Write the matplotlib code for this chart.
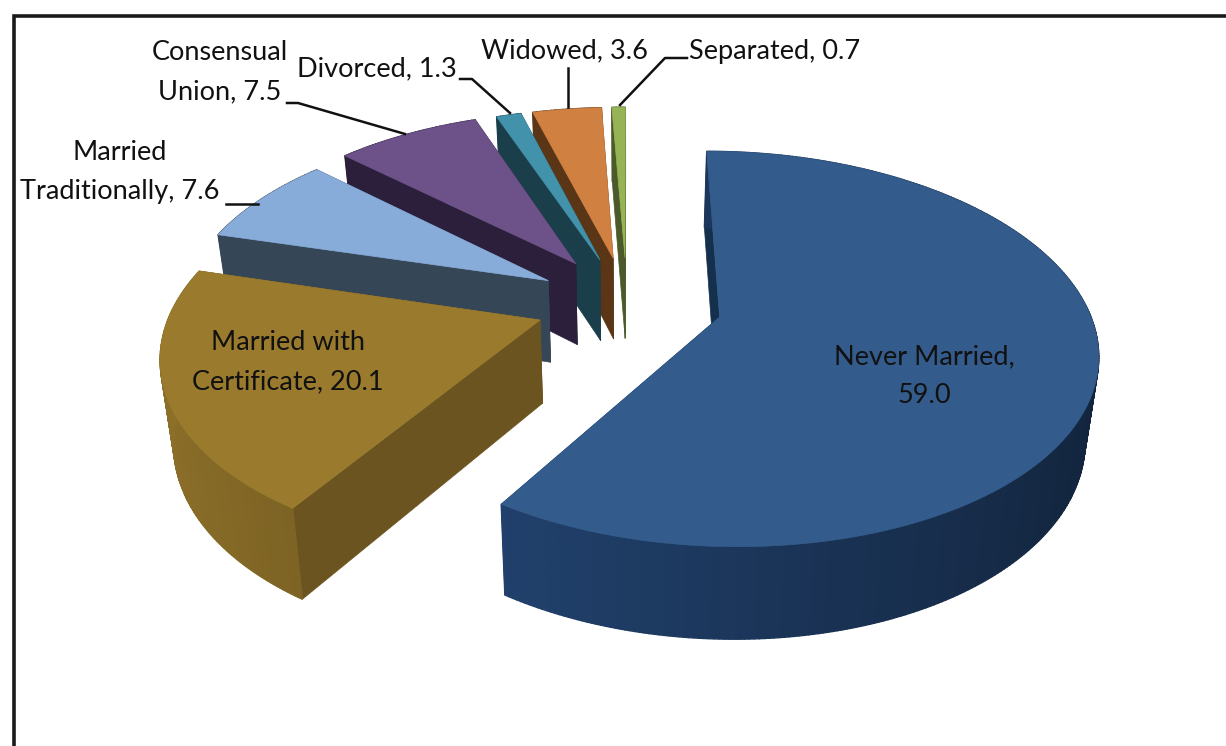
import numpy as np
import matplotlib
matplotlib.use("Agg")
import matplotlib.pyplot as plt
from matplotlib.colors import to_rgb

names = ["Never Married", "Married with\nCertificate", "Married\nTraditionally",
         "Consensual\nUnion", "Divorced", "Widowed", "Separated"]
values = [59.0, 20.1, 7.6, 7.5, 1.3, 3.6, 0.7]
seps = [",\n", ", ", ", ", ", ", ", ", ", ", ", "]

top_colors = ["#335C8C", "#9A7B2E", "#88ACD9", "#6C5288", "#4392AB", "#D08040", "#96B356"]
face_colors = ["#14304D", "#6C5420", "#354657", "#2B1F3B", "#1A3E4A", "#5A3516", "#4A5A28"]
wall_left = ["#25497A", "#8C6F29", "#354657", "#2B1F3B", "#1A3E4A", "#5A3516", "#4A5A28"]
wall_right = ["#12243C", "#4A3A14", "#354657", "#2B1F3B", "#1A3E4A", "#5A3516", "#4A5A28"]

label_pos = [(924, 376), (288, 362), (120, 172), (220, 72), (377, 69), (564, 51), (775, 51)]
leaders = [
    [(226, 204), (258, 204)],
    [(287, 103), (298, 103), (405, 134)],
    [(460, 79), (472, 79), (510, 113)],
    [(568, 68), (568, 107)],
    [(687, 58), (665, 58), (620, 105)],
]

# pie geometry, in pixels
cx, cy = 627, 303
rx, ry = 367, 188
depth = 85
explode = [0.26, 0.25, 0.25, 0.26, 0.25, 0.25, 0.25]
persp_y = 0.16
persp_z = 0.03
start_angle = 0.0


def project(x, y, z):
    w = (1 + persp_y * y) * (1 + persp_z * z)
    return cx + rx * x / w, cy + (-ry * y + depth * z) / w


def mix(a, b, t):
    a, b = np.array(to_rgb(a)), np.array(to_rgb(b))
    return tuple(a + (b - a) * t)


fig = plt.figure(figsize=(12.26, 7.46), dpi=100)
ax = fig.add_axes([0, 0, 1, 1])
ax.set_xlim(0, 1226)
ax.set_ylim(746, 0)
ax.axis("off")

total = sum(values)
edges = start_angle + np.cumsum([0] + values) / total * 360

# painter's order: the back slices first
for i in range(len(values) - 1, -1, -1):
    a0, a1 = np.radians(edges[i]), np.radians(edges[i + 1])
    mid = (a0 + a1) / 2
    ox, oy = explode[i] * np.sin(mid), explode[i] * np.cos(mid)
    angs = np.linspace(a0, a1, max(int(np.degrees(a1 - a0) * 1.5), 4))
    xs, ys = ox + np.sin(angs), oy + np.cos(angs)

    # flat cut faces
    for a in (a0, a1):
        ex, ey = ox + np.sin(a), oy + np.cos(a)
        pts = [project(ox, oy, 0), project(ex, ey, 0), project(ex, ey, 1), project(ox, oy, 1)]
        ax.fill(*zip(*pts), color=face_colors[i], lw=0.5, zorder=2)

    # curved outer wall
    for j in range(len(angs) - 1):
        pts = [project(xs[j], ys[j], 0), project(xs[j + 1], ys[j + 1], 0),
               project(xs[j + 1], ys[j + 1], 1), project(xs[j], ys[j], 1)]
        t = (np.sin(angs[j]) + 1) / 2
        ax.fill(*zip(*pts), color=mix(wall_left[i], wall_right[i], t), lw=1.0, zorder=2)

    # top surface
    px, py = project(np.r_[ox, xs], np.r_[oy, ys], 0)
    ax.fill(px, py, color=top_colors[i], lw=0.5, zorder=2)

for line in leaders:
    ax.plot(*zip(*line), color="#111111", lw=1.8, zorder=3)

for name, val, sep, pos in zip(names, values, seps, label_pos):
    ax.text(pos[0], pos[1], f"{name}{sep}{val:.1f}", ha="center", va="center",
            family="Lato", fontsize=19.5, color="#111111", linespacing=1.7, zorder=4)

# chart frame, only the top and left sides are in view
ax.plot([14, 14, 1226], [746, 16, 16], color="#1A1A1A", lw=2.6, solid_joinstyle="miter", zorder=5)

fig.savefig("out.png", dpi=100)
